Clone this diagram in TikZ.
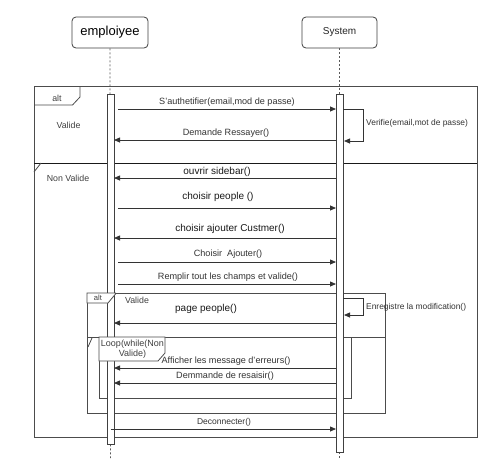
\documentclass[tikz,border=0pt]{standalone}
\usepackage{fontspec}
\setmainfont{Liberation Sans}
\usetikzlibrary{arrows.meta}
\begin{document}
\begin{tikzpicture}[x=1pt,y=-1pt,
  actor/.style={draw=black!75,rounded corners=4pt,line width=0.8pt,fill=white,minimum height=31pt,inner sep=0pt},
  life/.style={draw=black!65,dash pattern=on 2pt off 2pt,line width=0.7pt},
  bar/.style={draw=black!75,fill=white,line width=0.8pt},
  frame/.style={draw=black!70,line width=0.8pt},
  msg/.style={draw=black!80,line width=0.8pt,-{Triangle[length=6pt,width=5pt]}},
  lbl/.style={font=\fontsize{9.1}{10}\selectfont,text=black!80,inner sep=0pt},
  blbl/.style={font=\fontsize{10}{11}\selectfont,text=black!90,inner sep=0pt},
  slbl/.style={font=\fontsize{8.4}{9}\selectfont,text=black!80,inner sep=0pt,anchor=west},
  flbl/.style={font=\fontsize{8.8}{10}\selectfont,text=black!75,inner sep=0pt},
]
\useasboundingbox[fill=white] (0,0) rectangle (486,458);

% actors
\node[actor,minimum width=76pt,font=\fontsize{13}{14}\selectfont] (emp) at (110,32.5) {emploiyee};
\node[actor,minimum width=75pt,font=\fontsize{10}{11}\selectfont,text=black!85] (sys) at (339.5,32.5) {System};

% lifelines
\coordinate (empend) at (110.5,458);
\coordinate (sysend) at (339.5,458);
\draw[life] (emp.south) -- (empend);
\draw[life] (sys.south) -- (sysend);

% frames
\draw[frame] (34,86) rectangle (477,437);
\draw[frame] (34,105) -- (72.5,105) -- (80,97) -- (80,86);
\node[flbl] (altA) at (57,98) {alt};
\node[flbl] (valA) at (68.5,125) {Valide};
\draw[frame,draw=black!90] (34,163) -- (477,163);
\draw[frame] (34,172) -- (41,163);
\node[flbl] (nonval) at (68,178) {Non Valide};

\draw[frame] (87,293) rectangle (385,413);
\node[flbl] (valB) at (137,300) {Valide};
\draw[frame] (87,337) -- (385,337);
\draw[frame] (88,347) -- (92,338);

\draw[frame] (99,337) rectangle (351,398);

% activation bars
\node[bar,minimum width=7pt,minimum height=350pt,inner sep=0pt,anchor=north] (eb) at (110.5,94) {};
\node[bar,minimum width=7pt,minimum height=358pt,inner sep=0pt,anchor=north] (sb) at (339.5,94) {};

% tabs drawn over the bars
\draw[frame,fill=white] (87,293) -- (87,303) -- (108,303) -- (115.5,294) -- (115.5,293) -- cycle;
\node[flbl,font=\fontsize{7.6}{8}\selectfont] (altB) at (98,298) {alt};
\draw[frame,fill=white] (99,337) -- (99,361) -- (158,361) -- (165,353) -- (165,337) -- cycle;
\node[flbl,align=center,font=\fontsize{9}{10}\selectfont] (looplbl) at (132.5,349) {Loop(while(Non\\Valide)};

% messages
\coordinate (m1a) at (118,109); \coordinate (m1b) at (336,109);
\draw[msg] (m1a) -- (m1b);
\node[lbl] (l1) at (227,102) {S'authetifier(email,mod de passe)};

\coordinate (s1a) at (343,109); \coordinate (s1b) at (363,109);
\coordinate (s1c) at (363,141); \coordinate (s1d) at (344,141);
\draw[msg] (s1a) -- (s1b) -- (s1c) -- (s1d);
\node[slbl] (ls1) at (366,123) {Verifie(email,mot de passe)};

\coordinate (m2a) at (336,140); \coordinate (m2b) at (114,140);
\draw[msg] (m2a) -- (m2b);
\node[lbl] (l2) at (226,133) {Demande Ressayer()};

\coordinate (m3a) at (336,178); \coordinate (m3b) at (114,178);
\draw[msg] (m3a) -- (m3b);
\node[blbl] (l3) at (217,172) {ouvrir sidebar()};

\coordinate (m4a) at (118,208); \coordinate (m4b) at (336,208);
\draw[msg] (m4a) -- (m4b);
\node[blbl] (l4) at (218,197) {choisir people ()};

\coordinate (m5a) at (336,238); \coordinate (m5b) at (114,238);
\draw[msg] (m5a) -- (m5b);
\node[blbl] (l5) at (230,229) {choisir ajouter Custmer()};

\coordinate (m6a) at (118,262); \coordinate (m6b) at (336,262);
\draw[msg] (m6a) -- (m6b);
\node[lbl] (l6) at (228,254) {Choisir\ \ Ajouter()};

\coordinate (m7a) at (118,284); \coordinate (m7b) at (336,284);
\draw[msg] (m7a) -- (m7b);
\node[lbl] (l7) at (228,277) {Remplir tout les champs et valide()};

\coordinate (s2a) at (343,298); \coordinate (s2b) at (363,298);
\coordinate (s2c) at (363,315); \coordinate (s2d) at (344,315);
\draw[msg] (s2a) -- (s2b) -- (s2c) -- (s2d);
\node[slbl] (ls2) at (366,307) {Enregistre la modification()};

\coordinate (m8a) at (336,323); \coordinate (m8b) at (114,323);
\draw[msg] (m8a) -- (m8b);
\node[blbl] (l8) at (206,309) {page people()};

\coordinate (m9a) at (336,368); \coordinate (m9b) at (114,368);
\draw[msg] (m9a) -- (m9b);
\node[lbl] (l9) at (226,361) {Afficher les message d'erreurs()};

\coordinate (m10a) at (336,383); \coordinate (m10b) at (114,383);
\draw[msg] (m10a) -- (m10b);
\node[lbl] (l10) at (225,376) {Demmande de resaisir()};

\coordinate (m11a) at (110.5,429); \coordinate (m11b) at (336,429);
\draw[msg] (m11a) -- (m11b);
\node[lbl,font=\fontsize{8.5}{9}\selectfont] (l11) at (224,422) {Deconnecter()};
\end{tikzpicture}
\end{document}
